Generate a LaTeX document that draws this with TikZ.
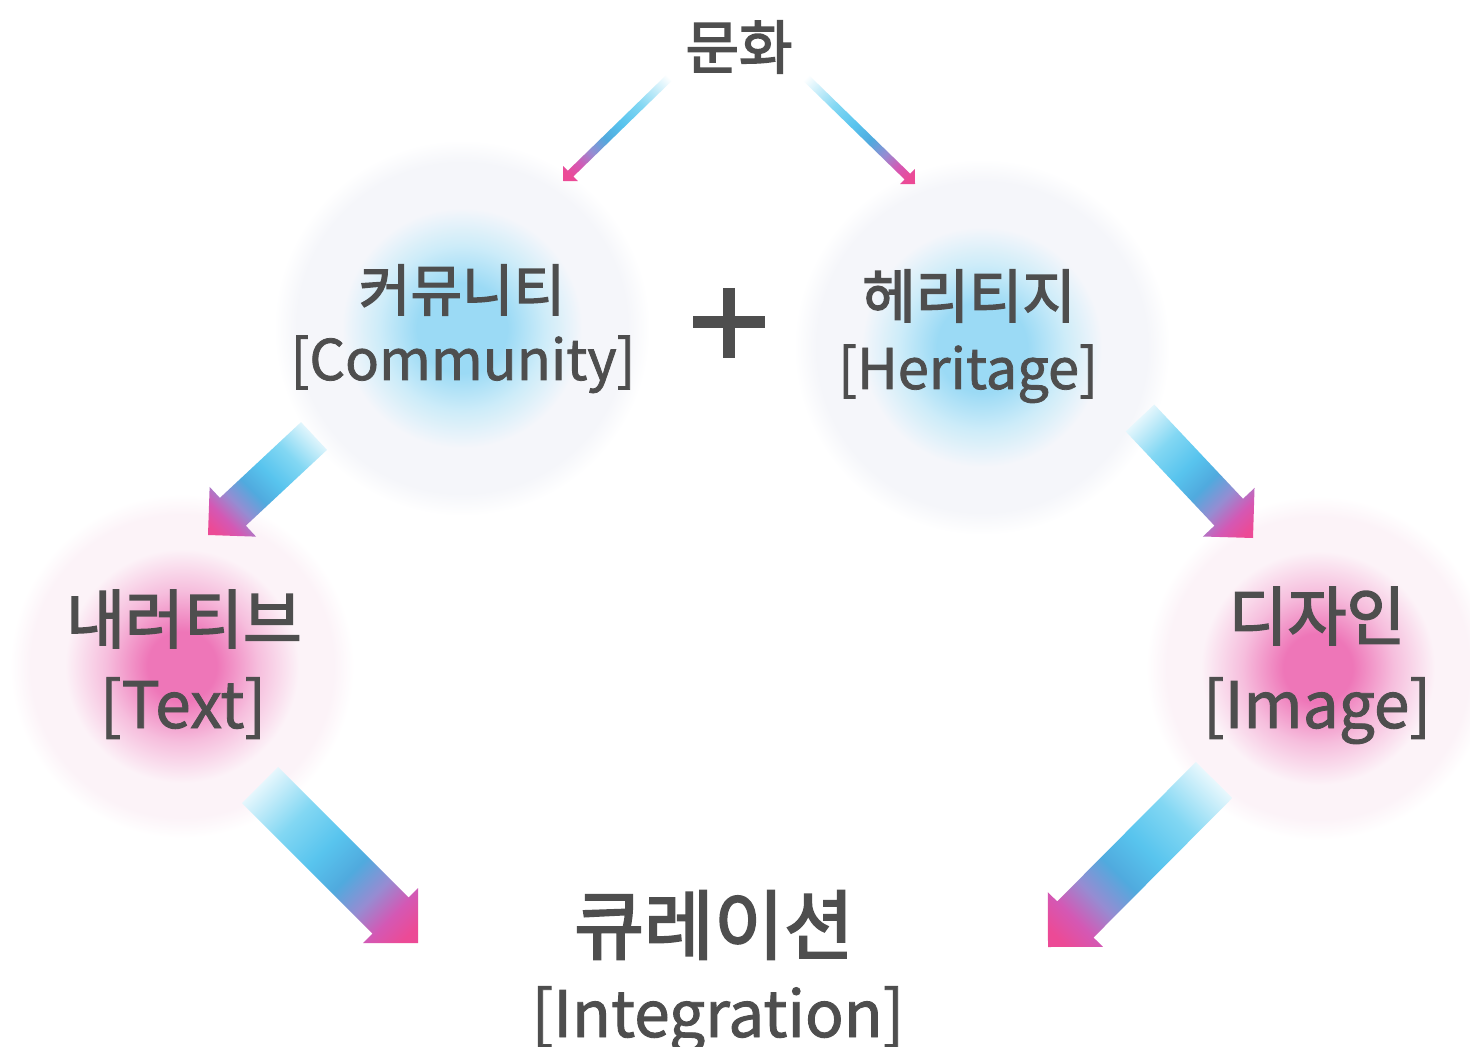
\documentclass[tikz,border=0pt]{standalone}
\usepackage{fontspec}
\setmainfont{Noto Sans CJK KR}
\newfontfamily\korfont{Noto Sans CJK KR}[FakeBold=2.6]
\newfontfamily\latfont{Noto Sans CJK KR}[FakeBold=1.4]
\usetikzlibrary{calc}
\definecolor{txt}{RGB}{78,78,78}
\definecolor{bcore}{RGB}{155,218,245}
\definecolor{bmid}{RGB}{205,236,249}
\definecolor{halo}{RGB}{245,246,250}
\definecolor{pcore}{RGB}{238,118,184}
\definecolor{pmid}{RGB}{246,190,221}
\definecolor{phalo}{RGB}{252,243,248}
\definecolor{cyanA}{RGB}{130,215,243}
\definecolor{cyanB}{RGB}{88,196,238}
\definecolor{blueA}{RGB}{80,170,222}
\definecolor{purpA}{RGB}{150,140,210}
\definecolor{magA}{RGB}{212,88,180}
\definecolor{pinkA}{RGB}{236,74,150}
\pgfdeclareradialshading{bluespot}{\pgfpoint{0bp}{0bp}}{color(0bp)=(bcore); color(6bp)=(bcore); color(11bp)=(bmid); color(16bp)=(halo); color(22bp)=(halo); color(25bp)=(white); color(50bp)=(white)}
\pgfdeclareradialshading{pinkspot}{\pgfpoint{0bp}{0bp}}{color(0bp)=(pcore); color(5bp)=(pcore); color(11bp)=(pmid); color(17bp)=(phalo); color(22bp)=(phalo); color(25bp)=(white); color(50bp)=(white)}
\pgfdeclarehorizontalshading{flowgrad}{100bp}{color(0bp)=(white); color(18bp)=(white); color(36bp)=(cyanA); color(48bp)=(cyanB); color(58bp)=(blueA); color(67bp)=(purpA); color(75bp)=(magA); color(82bp)=(pinkA); color(100bp)=(pinkA)}
\newcommand\gradarrow[5]{%
  \coordinate (hb) at ($(#2)!#4!(#1)$);
  \coordinate (s1) at ($(#1)!#3!90:(#2)$);
  \coordinate (s2) at ($(#1)!#3!-90:(#2)$);
  \coordinate (b1) at ($(hb)!#3!-90:(#1)$);
  \coordinate (b2) at ($(hb)!#3!90:(#1)$);
  \coordinate (h1) at ($(hb)!#4!-90:(#1)$);
  \coordinate (h2) at ($(hb)!#4!90:(#1)$);
  \shade[shading=flowgrad, shading angle=#5] (s1) -- (b1) -- (h1) -- (#2) -- (h2) -- (b2) -- (s2) -- cycle;
}
\tikzset{
  spot/.style={circle, inner sep=0pt, minimum size=#1},
  kor/.style={text=txt, inner sep=0pt, font=\korfont\fontsize{28}{30}\selectfont},
  lat/.style={text=txt, inner sep=0pt, anchor=base, font=\latfont\fontsize{28}{30}\selectfont},
}
\begin{document}
\begin{tikzpicture}[x=0.5pt,y=-0.5pt]
\useasboundingbox (0,0) rectangle (1470,1047);
\fill[white] (0,0) rectangle (1470,1047);
% circles
\node[spot=188pt, shading=bluespot] (comm) at (462,328) {};
\node[spot=188pt, shading=bluespot] (heri) at (982,347) {};
\node[spot=172pt, shading=pinkspot] (textc) at (182,666) {};
\node[spot=172pt, shading=pinkspot] (imgc) at (1318,668) {};
% arrow end points
\coordinate (t1s) at (672,75);  \coordinate (t1e) at (563,181);
\coordinate (t2s) at (803,75);  \coordinate (t2e) at (915,184);
\coordinate (a1s) at (314,436); \coordinate (a1e) at (208,535);
\coordinate (a2s) at (1140,418); \coordinate (a2e) at (1253,538);
\coordinate (a3s) at (260,785); \coordinate (a3e) at (418,943);
\coordinate (a4s) at (1214,780); \coordinate (a4e) at (1048,947);
\gradarrow{t1s}{t1e}{2pt}{5.3pt}{225}
\gradarrow{t2s}{t2e}{2pt}{5.3pt}{315}
\gradarrow{a1s}{a1e}{9.5pt}{17pt}{225}
\gradarrow{a2s}{a2e}{9.8pt}{17.7pt}{315}
\gradarrow{a3s}{a3e}{12.8pt}{19.4pt}{315}
\gradarrow{a4s}{a4e}{12.8pt}{19.4pt}{225}
% texts
\node[kor, font=\korfont\fontsize{29}{31}\selectfont] (munhwa) at (739,47) {문화};
\node[kor] (commk) at (462,290) {커뮤니티};
\node[lat] (comme) at (463,380) {[Community]};
\node[kor, font=\korfont\fontsize{29}{31}\selectfont] (herik) at (969,296) {헤리티지};
\node[lat] (herie) at (968,389) {[Heritage]};
\node[kor, font=\korfont\fontsize{32}{34}\selectfont] (textk) at (184,619) {내러티브};
\node[lat, font=\latfont\fontsize{32}{34}\selectfont] (texte) at (183,728) {[Text]};
\node[kor, font=\korfont\fontsize{32}{34}\selectfont] (imgk) at (1317,616) {디자인};
\node[lat, font=\latfont\fontsize{32}{34}\selectfont] (imge) at (1317,728) {[Image]};
\node[kor, font=\korfont\fontsize{38}{40}\selectfont] (curk) at (714,925) {큐레이션};
\node[lat, font=\latfont\fontsize{32}{34}\selectfont] (cure) at (718,1037) {[Integration]};
% plus sign
\draw[txt, line width=6.2pt] (693,322) -- (765,322);
\draw[txt, line width=6.2pt] (729,288) -- (729,358);
\end{tikzpicture}
\end{document}
